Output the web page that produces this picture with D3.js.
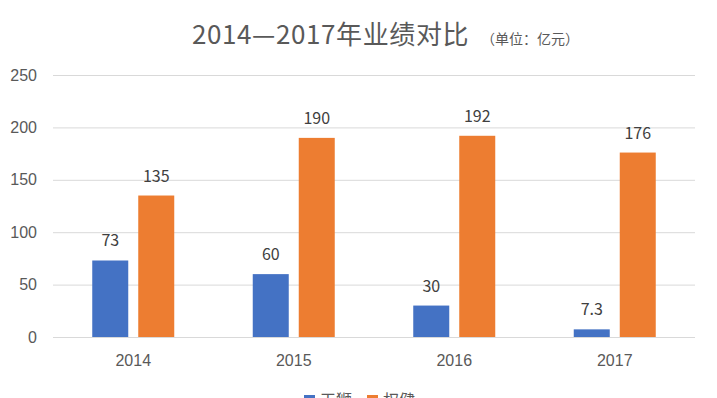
<!DOCTYPE html>
<html>
<head>
<meta charset="utf-8">
<script src="https://cdn.jsdelivr.net/npm/d3@7"></script>
<style>
    html, body { margin: 0; padding: 0; background: #fff; overflow: hidden; }
    svg { display: block; font-family: "Noto Sans CJK SC", "Noto Sans", sans-serif; }
</style>
</head>
<body>
<svg id="chart" width="717" height="398"></svg>
<script>
// Chart data
const years = ['2014', '2015', '2016', '2017'];
const seriesNames = ['天狮', '权健'];
const tiensValues = [73, 60, 30, 7.3];
const quanjianValues = [135, 190, 192, 176];
const yTicks = [0, 50, 100, 150, 200, 250];
const seriesColors = ['#4472C4', '#ED7D31'];

const svg = d3.select('#chart');
const width = 717, height = 398;
const margin = { top: 75, right: 22, bottom: 61, left: 53 };

const valuesBySeries = [tiensValues, quanjianValues];
const rows = years.map((y, i) => ({
    year: y,
    values: seriesNames.map((s, k) => ({ series: s, value: valuesBySeries[k][i] }))
}));

// Scales
const x0 = d3.scaleBand()
    .domain(years)
    .range([margin.left, width - margin.right])
    .padding(0);

const x1 = d3.scaleBand()
    .domain(seriesNames)
    .range([-41, 41])
    .paddingInner(10 / 46)
    .paddingOuter(0);

const y = d3.scaleLinear()
    .domain([0, 250])
    .range([height - margin.bottom, margin.top]);

const color = d3.scaleOrdinal().domain(seriesNames).range(seriesColors);

// Title
svg.append('text')
    .attr('x', 192)
    .attr('y', 44)
    .style('fill', '#595959')
    .style('font-size', '26px')
    .style('letter-spacing', '0.6px')
    .text('2014—2017年业绩对比');
svg.append('text')
    .attr('x', 481)
    .attr('y', 44)
    .style('fill', '#595959')
    .style('font-size', '14px')
    .text('（单位：亿元）');

// Gridlines + y axis labels
const yAxis = svg.append('g')
    .attr('transform', `translate(${margin.left},0)`)
    .call(d3.axisLeft(y)
        .tickValues(yTicks)
        .tickSize(-(width - margin.left - margin.right))
        .tickPadding(16));
yAxis.select('.domain').remove();
yAxis.selectAll('.tick line')
    .attr('stroke', '#D9D9D9')
    .attr('stroke-width', 1);
yAxis.selectAll('.tick text')
    .style('font-size', '16px')
    .style('fill', '#595959');

// x axis labels
const xAxis = svg.append('g')
    .attr('transform', `translate(0,${height - margin.bottom})`)
    .call(d3.axisBottom(x0).tickSize(0).tickPadding(18));
xAxis.select('.domain').remove();
xAxis.selectAll('.tick text')
    .style('font-size', '16px')
    .style('fill', '#595959');

// Bars
const groups = svg.append('g').selectAll('g')
    .data(rows)
    .join('g')
    .attr('transform', d => `translate(${x0(d.year) + x0.bandwidth() / 2},0)`);

groups.selectAll('rect')
    .data(d => d.values)
    .join('rect')
    .attr('x', d => x1(d.series))
    .attr('y', d => y(d.value))
    .attr('width', x1.bandwidth())
    .attr('height', d => y(0) - y(d.value))
    .attr('fill', d => color(d.series));

// Data labels
groups.selectAll('text.label')
    .data(d => d.values)
    .join('text')
    .attr('class', 'label')
    .attr('x', d => x1(d.series) + x1.bandwidth() / 2)
    .attr('y', d => y(d.value) - 14)
    .attr('text-anchor', 'middle')
    .style('font-size', '16px')
    .style('fill', '#404040')
    .text(d => d.value);

// Legend (partly cut off by the bottom edge, as in the original)
const legend = svg.append('g')
    .attr('transform', 'translate(304,395)');
const legendItems = legend.selectAll('g')
    .data(seriesNames)
    .join('g')
    .attr('transform', (d, i) => `translate(${i * 63},0)`);
legendItems.append('rect')
    .attr('width', 11)
    .attr('height', 10)
    .attr('fill', d => color(d));
legendItems.append('text')
    .attr('x', 16)
    .attr('y', 11)
    .style('font-size', '16px')
    .style('fill', '#595959')
    .text(d => d);
</script>
</body>
</html>
